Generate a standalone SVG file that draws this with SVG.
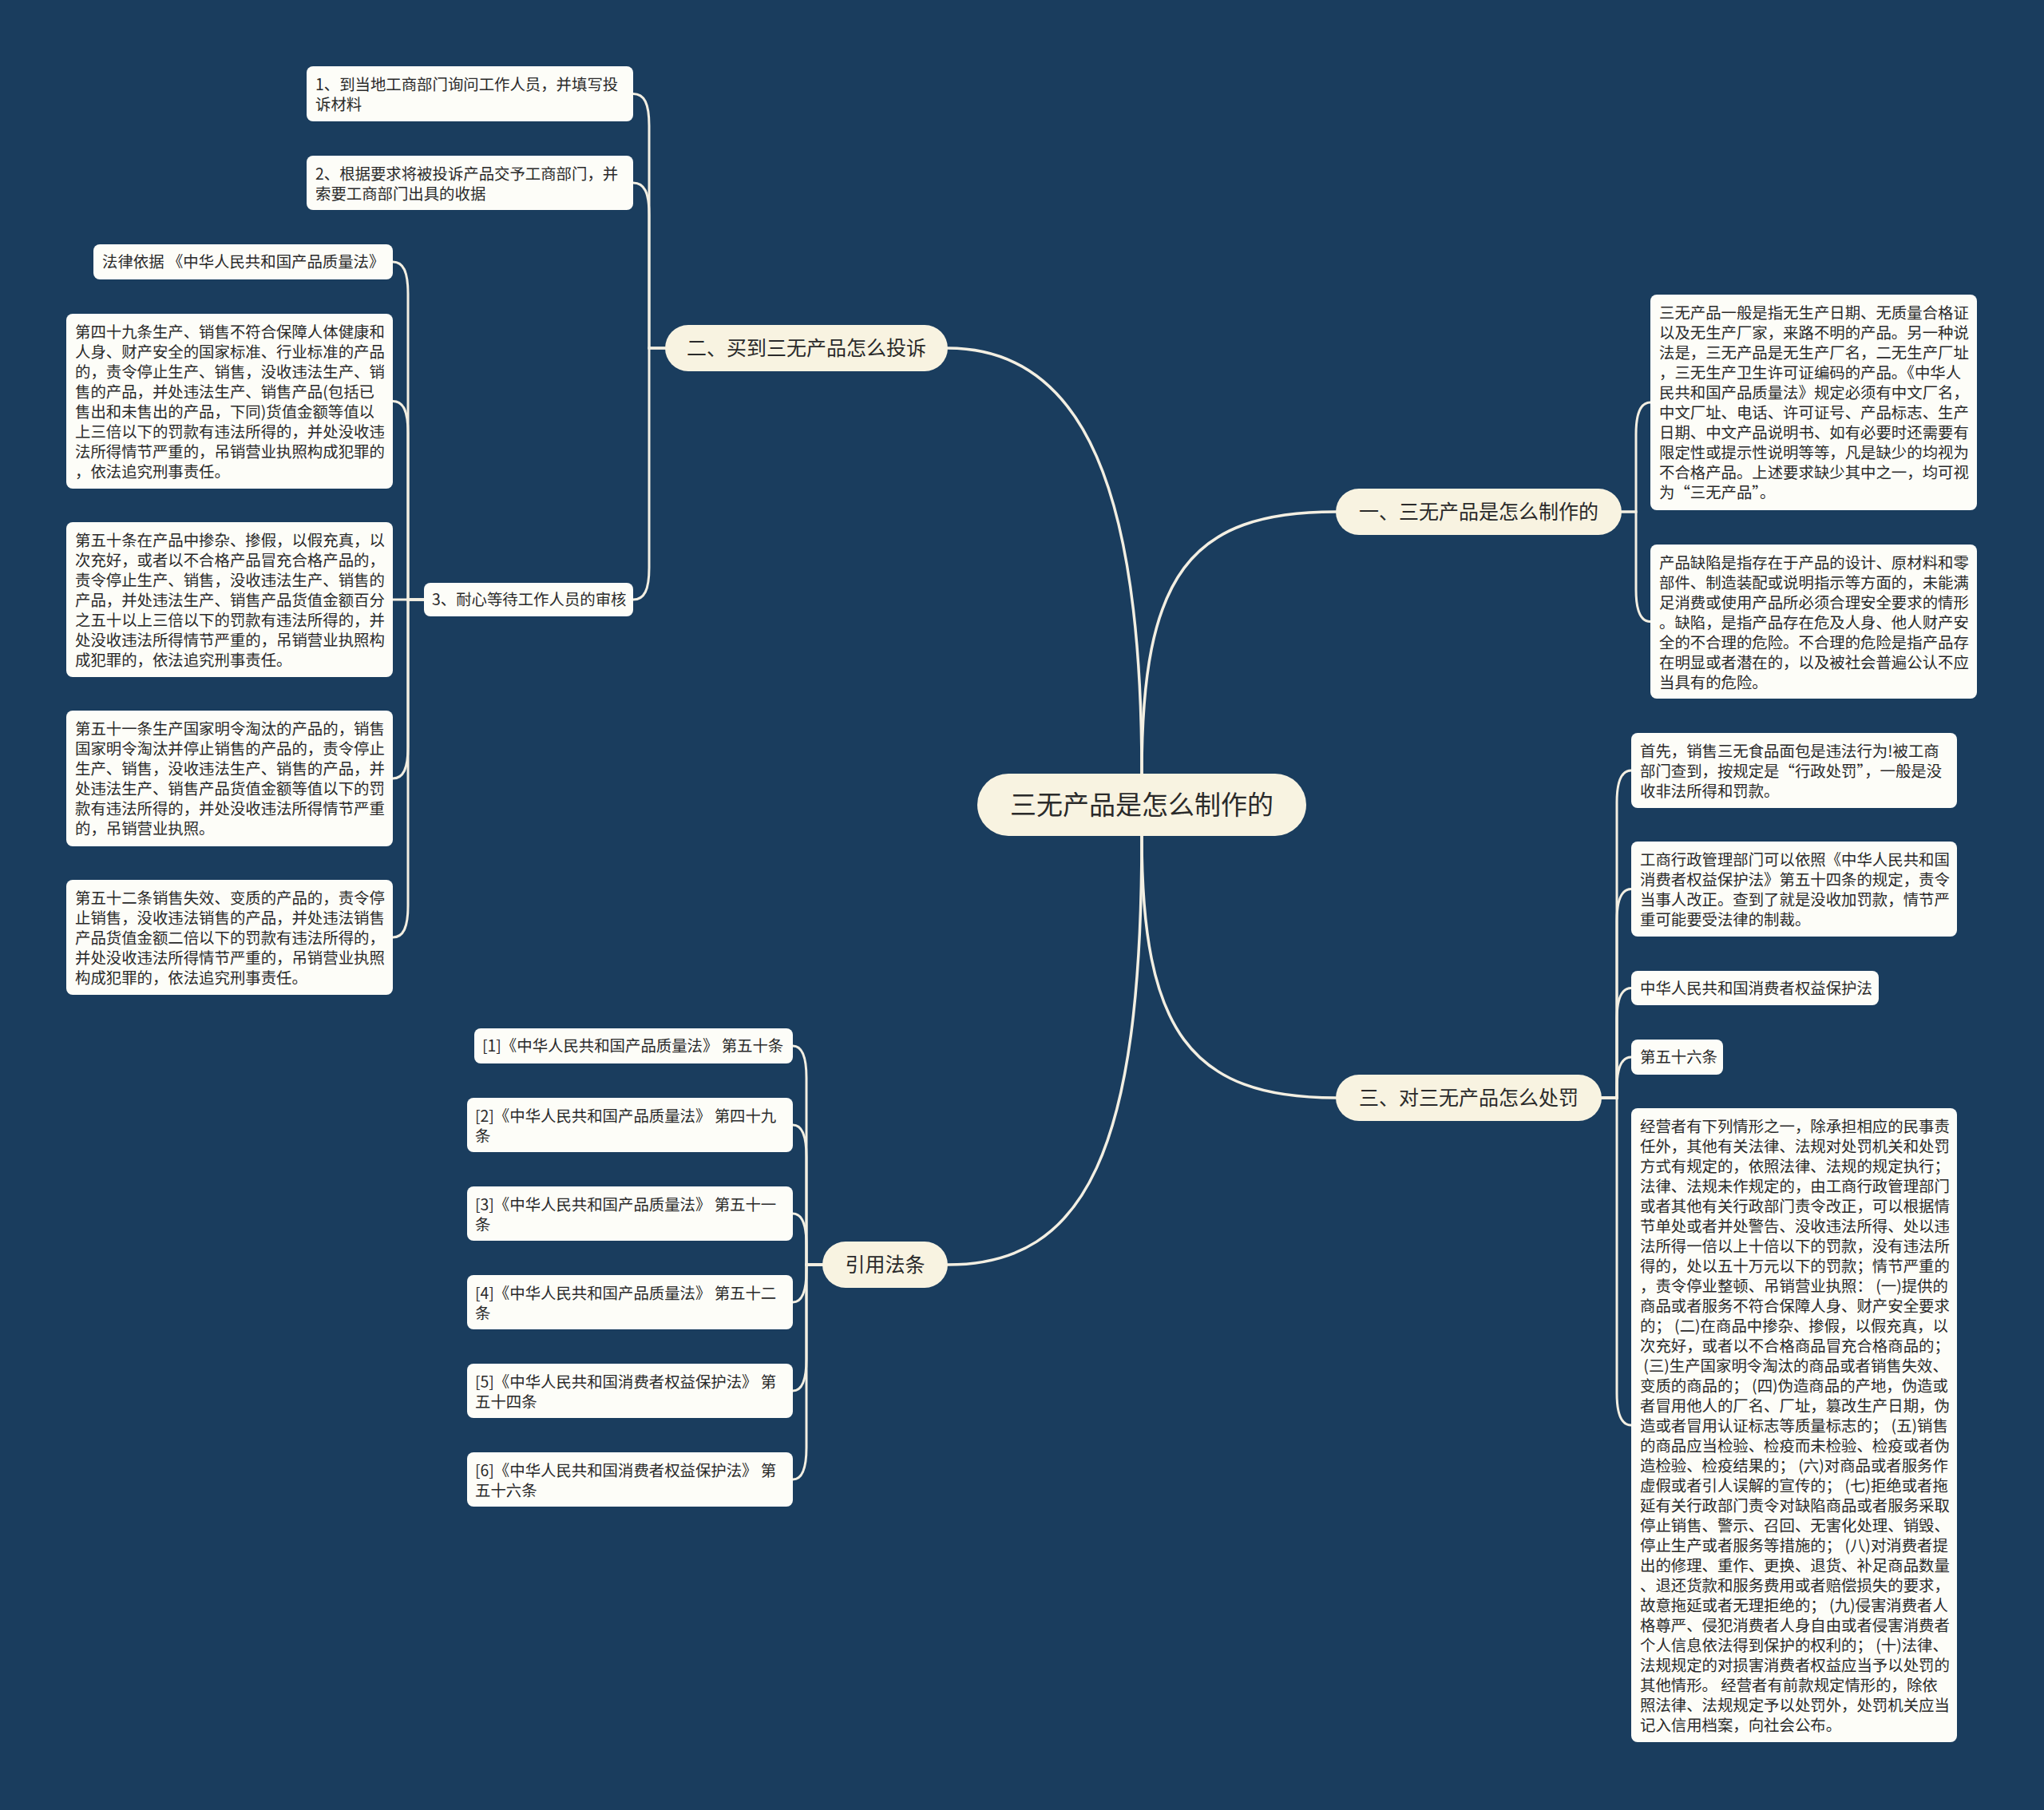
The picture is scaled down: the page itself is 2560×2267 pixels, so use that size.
<svg xmlns="http://www.w3.org/2000/svg" width="2560" height="2267" viewBox="0 0 2560 2267">
<style>
.pill{fill:#f8f3e1}
.leaf{fill:#fdfdf8}
.t{font-family:"Noto Sans CJK SC","Noto Sans",sans-serif;fill:#2a2a2a}
.lt{font-size:19.4px}
.bt{font-size:25px;text-anchor:middle}
.rt{font-size:33px;text-anchor:middle}
.ln{fill:none;stroke:#f3efe2;stroke-width:3;stroke-linecap:round}
.lr{fill:none;stroke:#f3efe2;stroke-width:3.5;stroke-linecap:round}
</style>
<rect width="2560" height="2267" fill="#1a3d5e"/>
<g id="connectors">
<path class="lr" d="M1430,969 C1430,620 1360,436 1187,436"/>
<path class="lr" d="M1430,969 C1430,720 1490,641 1673,641"/>
<path class="lr" d="M1430,1047 C1430,1290 1490,1375 1673,1375"/>
<path class="lr" d="M1430,1047 C1430,1440 1360,1584 1187,1584"/>
<path class="ln" d="M2031,641 H2049 V544 C2049,516 2055,504 2067,504"/>
<path class="ln" d="M2031,641 H2049 V738.5 C2049,766.5 2055,778.5 2067,778.5"/>
<path class="ln" d="M2006,1375 H2025 V1005 C2025,977 2031,965 2043,965"/>
<path class="ln" d="M2006,1375 H2025 V1153.5 C2025,1125.5 2031,1113.5 2043,1113.5"/>
<path class="ln" d="M2006,1375 H2025 V1277.5 C2025,1249.5 2031,1237.5 2043,1237.5"/>
<path class="ln" d="M2006,1375 H2025 V1364 C2025,1336 2031,1324 2043,1324"/>
<path class="ln" d="M2006,1375 H2025 V1745 C2025,1773 2031,1785 2043,1785"/>
<path class="ln" d="M833,436 H813 V157.5 C813,129.5 807,117.5 793,117.5"/>
<path class="ln" d="M833,436 H813 V269 C813,241 807,229 793,229"/>
<path class="ln" d="M833,436 H813 V711 C813,739 807,751 793,751"/>
<path class="ln" d="M531,751 H511 V368 C511,340 505,328 492,328"/>
<path class="ln" d="M531,751 H511 V542.5 C511,514.5 505,502.5 492,502.5"/>
<path class="ln" d="M531,751 H492"/>
<path class="ln" d="M531,751 H511 V935 C511,963 505,975 492,975"/>
<path class="ln" d="M531,751 H511 V1134 C511,1162 505,1174 492,1174"/>
<path class="ln" d="M1030,1584 H1010 V1350 C1010,1322 1004,1310 993,1310"/>
<path class="ln" d="M1030,1584 H1010 V1449 C1010,1421 1004,1409 993,1409"/>
<path class="ln" d="M1030,1584 H1010 V1560 C1010,1532 1004,1520 993,1520"/>
<path class="ln" d="M1030,1584 H1010 V1591 C1010,1619 1004,1631 993,1631"/>
<path class="ln" d="M1030,1584 H1010 V1702 C1010,1730 1004,1742 993,1742"/>
<path class="ln" d="M1030,1584 H1010 V1813 C1010,1841 1004,1853 993,1853"/>
</g>
<g id="root">
<rect class="pill" x="1224" y="969" width="412" height="78" rx="39"/>
<text class="t rt" x="1430" y="1020">三无产品是怎么制作的</text>
</g>
<g id="b1">
<rect class="pill" x="1673" y="612" width="358" height="58" rx="29"/>
<text class="t bt" x="1852" y="650">一、三无产品是怎么制作的</text>
</g>
<g id="b2">
<rect class="pill" x="833" y="407" width="354" height="58" rx="29"/>
<text class="t bt" x="1010" y="445">二、买到三无产品怎么投诉</text>
</g>
<g id="b3">
<rect class="pill" x="1673" y="1346" width="333" height="58" rx="29"/>
<text class="t bt" x="1839.5" y="1384">三、对三无产品怎么处罚</text>
</g>
<g id="b4">
<rect class="pill" x="1030" y="1555" width="157" height="58" rx="29"/>
<text class="t bt" x="1108.5" y="1593">引用法条</text>
</g>
<g id="n1a">
<rect class="leaf" x="2067" y="369" width="409" height="270" rx="8"/>
<text class="t lt"><tspan x="2078" y="398.5">三无产品一般是指无生产日期、无质量合格证</tspan><tspan x="2078" y="423.5">以及无生产厂家，来路不明的产品。另一种说</tspan><tspan x="2078" y="448.5">法是，三无产品是无生产厂名，二无生产厂址</tspan><tspan x="2078" y="473.5">，三无生产卫生许可证编码的产品。《中华人</tspan><tspan x="2078" y="498.5">民共和国产品质量法》规定必须有中文厂名，</tspan><tspan x="2078" y="523.5">中文厂址、电话、许可证号、产品标志、生产</tspan><tspan x="2078" y="548.5">日期、中文产品说明书、如有必要时还需要有</tspan><tspan x="2078" y="573.5">限定性或提示性说明等等，凡是缺少的均视为</tspan><tspan x="2078" y="598.5">不合格产品。上述要求缺少其中之一，均可视</tspan><tspan x="2078" y="623.5">为“三无产品”。</tspan></text>
</g>
<g id="n1b">
<rect class="leaf" x="2067" y="682" width="409" height="193" rx="8"/>
<text class="t lt"><tspan x="2078" y="711.5">产品缺陷是指存在于产品的设计、原材料和零</tspan><tspan x="2078" y="736.5">部件、制造装配或说明指示等方面的，未能满</tspan><tspan x="2078" y="761.5">足消费或使用产品所必须合理安全要求的情形</tspan><tspan x="2078" y="786.5">。缺陷，是指产品存在危及人身、他人财产安</tspan><tspan x="2078" y="811.5">全的不合理的危险。不合理的危险是指产品存</tspan><tspan x="2078" y="836.5">在明显或者潜在的，以及被社会普遍公认不应</tspan><tspan x="2078" y="861.5">当具有的危险。</tspan></text>
</g>
<g id="n3a">
<rect class="leaf" x="2043" y="918" width="408" height="94" rx="8"/>
<text class="t lt"><tspan x="2054" y="947.5">首先，销售三无食品面包是违法行为!被工商</tspan><tspan x="2054" y="972.5">部门查到，按规定是“行政处罚”，一般是没</tspan><tspan x="2054" y="997.5">收非法所得和罚款。</tspan></text>
</g>
<g id="n3b">
<rect class="leaf" x="2043" y="1054" width="408" height="119" rx="8"/>
<text class="t lt"><tspan x="2054" y="1083.5">工商行政管理部门可以依照《中华人民共和国</tspan><tspan x="2054" y="1108.5">消费者权益保护法》第五十四条的规定，责令</tspan><tspan x="2054" y="1133.5">当事人改正。查到了就是没收加罚款，情节严</tspan><tspan x="2054" y="1158.5">重可能要受法律的制裁。</tspan></text>
</g>
<g id="n3c">
<rect class="leaf" x="2043" y="1216" width="310" height="43" rx="8"/>
<text class="t lt" x="2054" y="1244.5">中华人民共和国消费者权益保护法</text>
</g>
<g id="n3d">
<rect class="leaf" x="2043" y="1302" width="115" height="44" rx="8"/>
<text class="t lt" x="2054" y="1331">第五十六条</text>
</g>
<g id="n3e">
<rect class="leaf" x="2043" y="1388" width="408" height="794" rx="8"/>
<text class="t lt"><tspan x="2054" y="1417.5">经营者有下列情形之一，除承担相应的民事责</tspan><tspan x="2054" y="1442.5">任外，其他有关法律、法规对处罚机关和处罚</tspan><tspan x="2054" y="1467.5">方式有规定的，依照法律、法规的规定执行；</tspan><tspan x="2054" y="1492.5">法律、法规未作规定的，由工商行政管理部门</tspan><tspan x="2054" y="1517.5">或者其他有关行政部门责令改正，可以根据情</tspan><tspan x="2054" y="1542.5">节单处或者并处警告、没收违法所得、处以违</tspan><tspan x="2054" y="1567.5">法所得一倍以上十倍以下的罚款，没有违法所</tspan><tspan x="2054" y="1592.5">得的，处以五十万元以下的罚款；情节严重的</tspan><tspan x="2054" y="1617.5">，责令停业整顿、吊销营业执照： (一)提供的</tspan><tspan x="2054" y="1642.5">商品或者服务不符合保障人身、财产安全要求</tspan><tspan x="2054" y="1667.5">的； (二)在商品中掺杂、掺假，以假充真，以</tspan><tspan x="2054" y="1692.5">次充好，或者以不合格商品冒充合格商品的；</tspan><tspan x="2054" y="1717.5">&#160;(三)生产国家明令淘汰的商品或者销售失效、</tspan><tspan x="2054" y="1742.5">变质的商品的； (四)伪造商品的产地，伪造或</tspan><tspan x="2054" y="1767.5">者冒用他人的厂名、厂址，篡改生产日期，伪</tspan><tspan x="2054" y="1792.5">造或者冒用认证标志等质量标志的； (五)销售</tspan><tspan x="2054" y="1817.5">的商品应当检验、检疫而未检验、检疫或者伪</tspan><tspan x="2054" y="1842.5">造检验、检疫结果的； (六)对商品或者服务作</tspan><tspan x="2054" y="1867.5">虚假或者引人误解的宣传的； (七)拒绝或者拖</tspan><tspan x="2054" y="1892.5">延有关行政部门责令对缺陷商品或者服务采取</tspan><tspan x="2054" y="1917.5">停止销售、警示、召回、无害化处理、销毁、</tspan><tspan x="2054" y="1942.5">停止生产或者服务等措施的； (八)对消费者提</tspan><tspan x="2054" y="1967.5">出的修理、重作、更换、退货、补足商品数量</tspan><tspan x="2054" y="1992.5">、退还货款和服务费用或者赔偿损失的要求，</tspan><tspan x="2054" y="2017.5">故意拖延或者无理拒绝的； (九)侵害消费者人</tspan><tspan x="2054" y="2042.5">格尊严、侵犯消费者人身自由或者侵害消费者</tspan><tspan x="2054" y="2067.5">个人信息依法得到保护的权利的； (十)法律、</tspan><tspan x="2054" y="2092.5">法规规定的对损害消费者权益应当予以处罚的</tspan><tspan x="2054" y="2117.5">其他情形。 经营者有前款规定情形的，除依</tspan><tspan x="2054" y="2142.5">照法律、法规规定予以处罚外，处罚机关应当</tspan><tspan x="2054" y="2167.5">记入信用档案，向社会公布。</tspan></text>
</g>
<g id="n2a">
<rect class="leaf" x="384" y="83" width="409" height="69" rx="8"/>
<text class="t lt"><tspan x="395" y="112.5">1、到当地工商部门询问工作人员，并填写投</tspan><tspan x="395" y="137.5">诉材料</tspan></text>
</g>
<g id="n2b">
<rect class="leaf" x="384" y="195" width="409" height="68" rx="8"/>
<text class="t lt"><tspan x="395" y="224.5">2、根据要求将被投诉产品交予工商部门，并</tspan><tspan x="395" y="249.5">索要工商部门出具的收据</tspan></text>
</g>
<g id="n2c">
<rect class="leaf" x="531" y="730" width="262" height="42" rx="8"/>
<text class="t lt" x="541" y="758">3、耐心等待工作人员的审核</text>
</g>
<g id="n2c1">
<rect class="leaf" x="117" y="306" width="375" height="44" rx="8"/>
<text class="t lt" x="128" y="335">法律依据 《中华人民共和国产品质量法》</text>
</g>
<g id="n2c2">
<rect class="leaf" x="83" y="393" width="409" height="219" rx="8"/>
<text class="t lt"><tspan x="94" y="422.5">第四十九条生产、销售不符合保障人体健康和</tspan><tspan x="94" y="447.5">人身、财产安全的国家标准、行业标准的产品</tspan><tspan x="94" y="472.5">的，责令停止生产、销售，没收违法生产、销</tspan><tspan x="94" y="497.5">售的产品，并处违法生产、销售产品(包括已</tspan><tspan x="94" y="522.5">售出和未售出的产品，下同)货值金额等值以</tspan><tspan x="94" y="547.5">上三倍以下的罚款有违法所得的，并处没收违</tspan><tspan x="94" y="572.5">法所得情节严重的，吊销营业执照构成犯罪的</tspan><tspan x="94" y="597.5">，依法追究刑事责任。</tspan></text>
</g>
<g id="n2c3">
<rect class="leaf" x="83" y="654" width="409" height="194" rx="8"/>
<text class="t lt"><tspan x="94" y="683.5">第五十条在产品中掺杂、掺假，以假充真，以</tspan><tspan x="94" y="708.5">次充好，或者以不合格产品冒充合格产品的，</tspan><tspan x="94" y="733.5">责令停止生产、销售，没收违法生产、销售的</tspan><tspan x="94" y="758.5">产品，并处违法生产、销售产品货值金额百分</tspan><tspan x="94" y="783.5">之五十以上三倍以下的罚款有违法所得的，并</tspan><tspan x="94" y="808.5">处没收违法所得情节严重的，吊销营业执照构</tspan><tspan x="94" y="833.5">成犯罪的，依法追究刑事责任。</tspan></text>
</g>
<g id="n2c4">
<rect class="leaf" x="83" y="890" width="409" height="170" rx="8"/>
<text class="t lt"><tspan x="94" y="919.5">第五十一条生产国家明令淘汰的产品的，销售</tspan><tspan x="94" y="944.5">国家明令淘汰并停止销售的产品的，责令停止</tspan><tspan x="94" y="969.5">生产、销售，没收违法生产、销售的产品，并</tspan><tspan x="94" y="994.5">处违法生产、销售产品货值金额等值以下的罚</tspan><tspan x="94" y="1019.5">款有违法所得的，并处没收违法所得情节严重</tspan><tspan x="94" y="1044.5">的，吊销营业执照。</tspan></text>
</g>
<g id="n2c5">
<rect class="leaf" x="83" y="1102" width="409" height="144" rx="8"/>
<text class="t lt"><tspan x="94" y="1131.5">第五十二条销售失效、变质的产品的，责令停</tspan><tspan x="94" y="1156.5">止销售，没收违法销售的产品，并处违法销售</tspan><tspan x="94" y="1181.5">产品货值金额二倍以下的罚款有违法所得的，</tspan><tspan x="94" y="1206.5">并处没收违法所得情节严重的，吊销营业执照</tspan><tspan x="94" y="1231.5">构成犯罪的，依法追究刑事责任。</tspan></text>
</g>
<g id="n4a">
<rect class="leaf" x="594" y="1288" width="399" height="44" rx="8"/>
<text class="t lt" x="604" y="1317">[1]《中华人民共和国产品质量法》 第五十条</text>
</g>
<g id="n4b">
<rect class="leaf" x="585" y="1375" width="408" height="68" rx="8"/>
<text class="t lt"><tspan x="595" y="1404.5">[2]《中华人民共和国产品质量法》 第四十九</tspan><tspan x="595" y="1429.5">条</tspan></text>
</g>
<g id="n4c">
<rect class="leaf" x="585" y="1486" width="408" height="68" rx="8"/>
<text class="t lt"><tspan x="595" y="1515.5">[3]《中华人民共和国产品质量法》 第五十一</tspan><tspan x="595" y="1540.5">条</tspan></text>
</g>
<g id="n4d">
<rect class="leaf" x="585" y="1597" width="408" height="68" rx="8"/>
<text class="t lt"><tspan x="595" y="1626.5">[4]《中华人民共和国产品质量法》 第五十二</tspan><tspan x="595" y="1651.5">条</tspan></text>
</g>
<g id="n4e">
<rect class="leaf" x="585" y="1708" width="408" height="68" rx="8"/>
<text class="t lt"><tspan x="595" y="1737.5">[5]《中华人民共和国消费者权益保护法》 第</tspan><tspan x="595" y="1762.5">五十四条</tspan></text>
</g>
<g id="n4f">
<rect class="leaf" x="585" y="1819" width="408" height="68" rx="8"/>
<text class="t lt"><tspan x="595" y="1848.5">[6]《中华人民共和国消费者权益保护法》 第</tspan><tspan x="595" y="1873.5">五十六条</tspan></text>
</g>
</svg>
